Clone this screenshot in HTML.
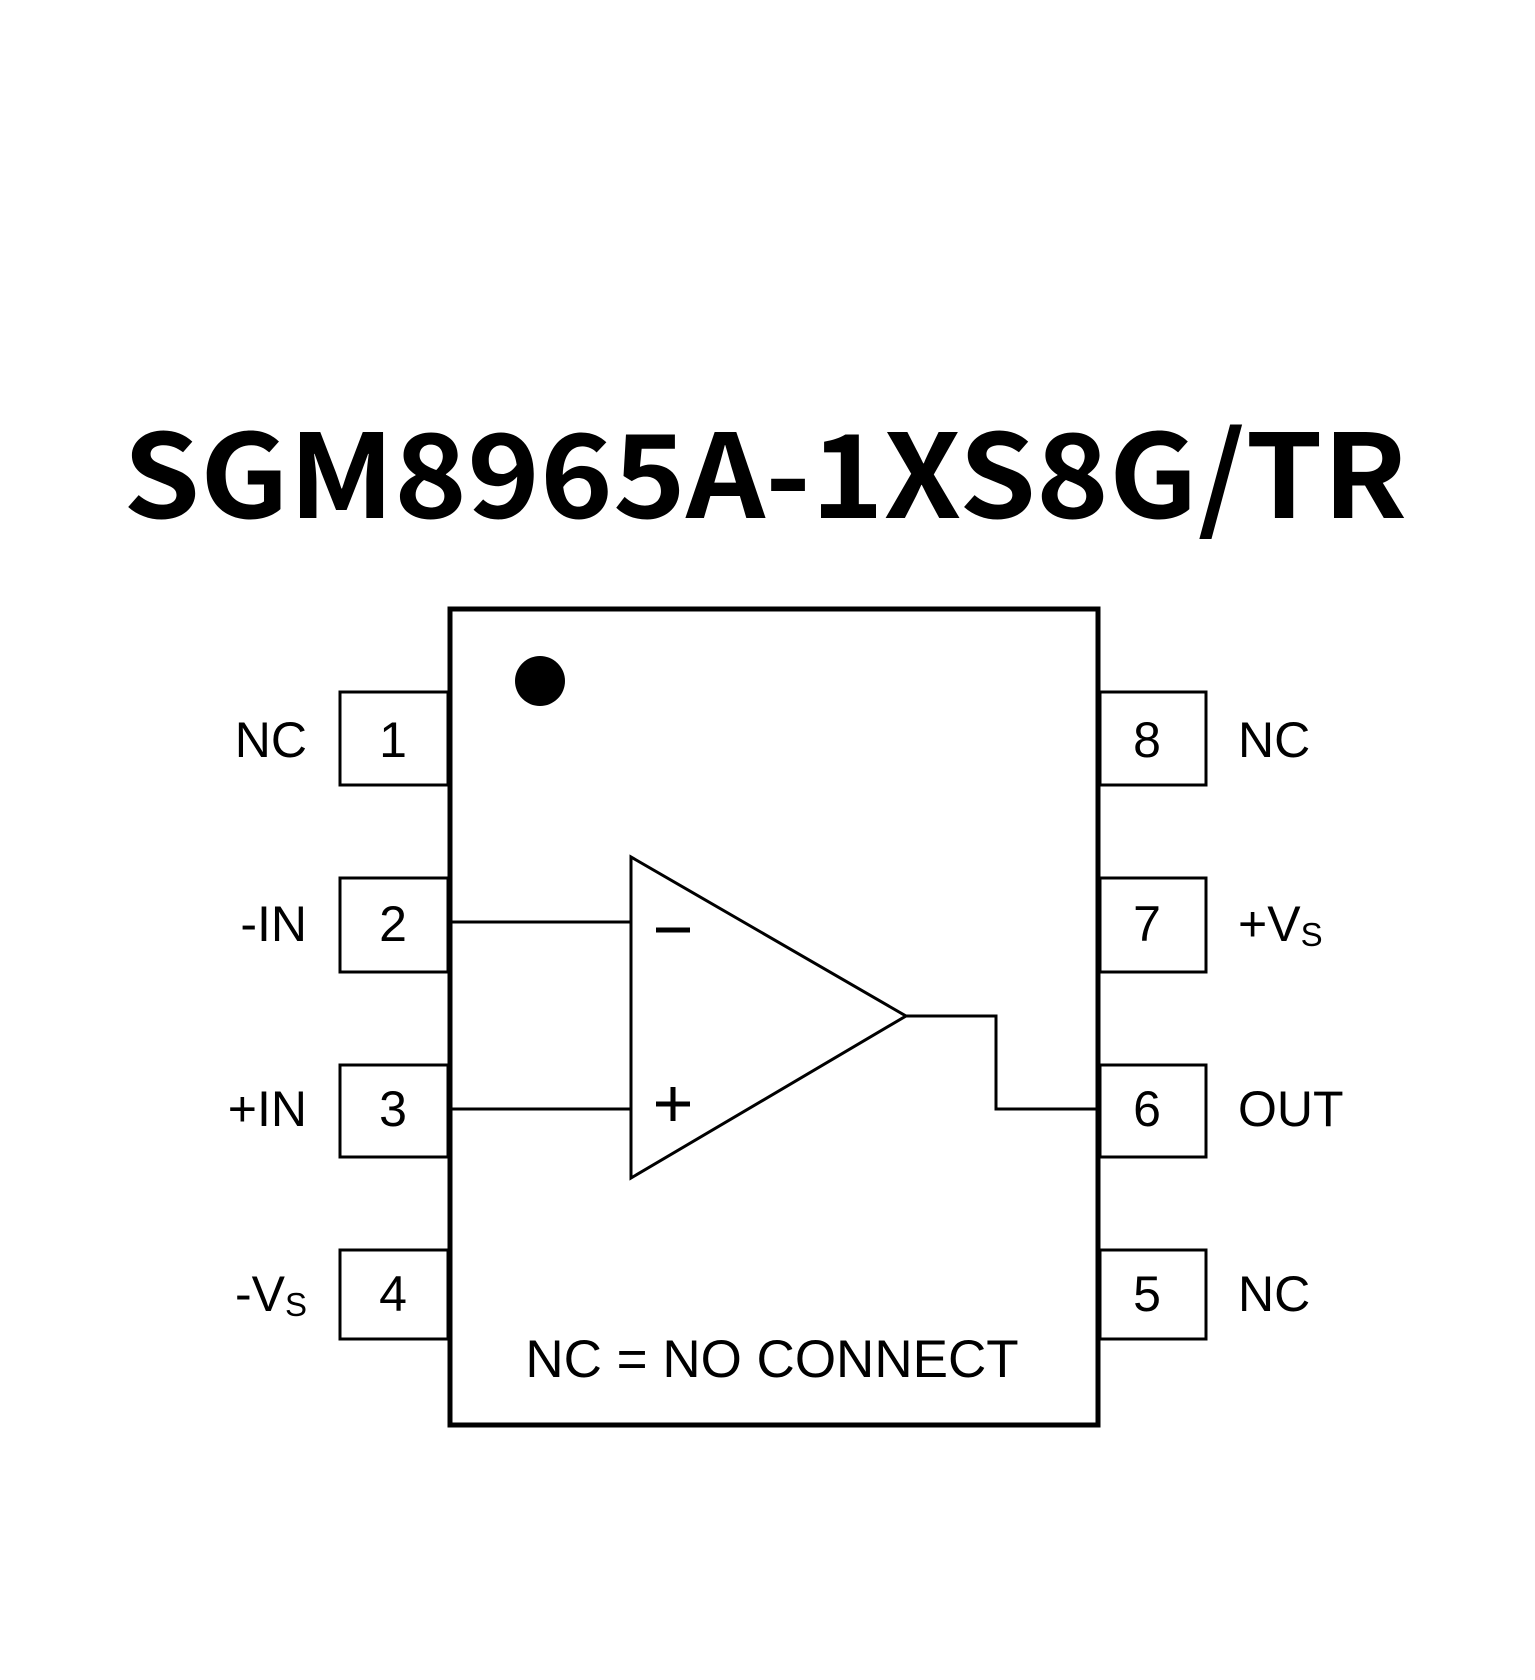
<!DOCTYPE html>
<html><head><meta charset="utf-8"><style>
html,body{margin:0;padding:0;background:#fff;}
</style></head><body>
<svg width="1535" height="1675" viewBox="0 0 1535 1675" xmlns="http://www.w3.org/2000/svg">
<rect width="1535" height="1675" fill="#fff"/>
<text x="123" y="518" font-family="'Noto Sans CJK SC','DejaVu Sans',sans-serif" font-weight="bold" font-size="116" textLength="1284" lengthAdjust="spacingAndGlyphs">SGM8965A-1XS8G/TR</text>
<g transform="translate(0,4)">
<g fill="none" stroke="#000">
<rect x="450" y="605" width="648" height="816" stroke-width="5"/>
<g stroke-width="3">
<rect x="340" y="688" width="108" height="93"/>
<rect x="340" y="874" width="108" height="94"/>
<rect x="340" y="1061" width="108" height="92"/>
<rect x="340" y="1246" width="108" height="89"/>
<rect x="1100" y="688" width="106" height="93"/>
<rect x="1100" y="874" width="106" height="94"/>
<rect x="1100" y="1061" width="106" height="92"/>
<rect x="1100" y="1246" width="106" height="89"/>
<polygon points="631,853 631,1174 906,1012"/>
<line x1="450" y1="918" x2="631" y2="918"/>
<line x1="450" y1="1105" x2="631" y2="1105"/>
<polyline points="906,1012 996,1012 996,1105 1098,1105"/>
</g>
</g>
<circle cx="540" cy="677" r="25" fill="#000"/>
<g font-family="'Liberation Sans',sans-serif" font-size="50" fill="#000">
<text x="393" y="753" text-anchor="middle">1</text>
<text x="393" y="937" text-anchor="middle">2</text>
<text x="393" y="1122" text-anchor="middle">3</text>
<text x="393" y="1307" text-anchor="middle">4</text>
<text x="1147" y="753" text-anchor="middle">8</text>
<text x="1147" y="937" text-anchor="middle">7</text>
<text x="1147" y="1122" text-anchor="middle">6</text>
<text x="1147" y="1307" text-anchor="middle">5</text>
<text x="307" y="753" text-anchor="end">NC</text>
<text x="307" y="937" text-anchor="end">-IN</text>
<text x="307" y="1122" text-anchor="end">+IN</text>
<text x="307" y="1307" text-anchor="end">-V<tspan font-size="33" dy="5">S</tspan></text>
<text x="1238" y="753">NC</text>
<text x="1238" y="937">+V<tspan font-size="33" dy="5">S</tspan></text>
<text x="1238" y="1122">OUT</text>
<text x="1238" y="1307">NC</text>
<text x="772" y="1373" text-anchor="middle" font-size="53">NC = NO CONNECT</text>
</g>
<g stroke="#000" stroke-width="5">
<line x1="656" y1="926" x2="690" y2="926"/>
<line x1="656" y1="1100" x2="690" y2="1100"/>
<line x1="673" y1="1083" x2="673" y2="1117"/>
</g>
</g>
</svg>
</body></html>
